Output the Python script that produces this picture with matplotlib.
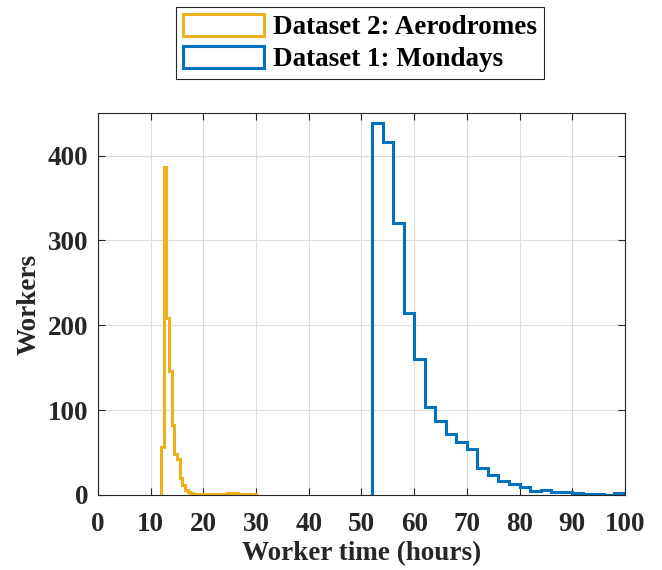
import numpy as np
import matplotlib
matplotlib.use("Agg")
from matplotlib import pyplot as plt
from matplotlib.patches import Patch

# Dataset 2: aerodromes, 0.5 h bins from 12 to 30 h
aero_edges = np.arange(12.0, 30.01, 0.5)
aero_counts = [57, 386, 209, 146, 82, 48, 42, 20, 12, 6, 3, 2,
               1, 1, 1, 1, 0, 1, 1, 0, 1, 1, 1, 1, 1, 2, 2, 1, 2, 1,
               1, 1, 0, 1, 1, 1]

# Dataset 1: mondays, 2 h bins from 52 to 100 h
monday_edges = np.arange(52, 101, 2)
monday_counts = [438, 416, 320, 214, 160, 104, 87, 72, 62, 54, 32, 24,
                 16, 13, 10, 5, 6, 4, 3, 2, 1, 1, 0, 2]

orange = "#EDB120"
blue = "#0072BD"
fs = 19.5

plt.rcParams['font.family'] = ['Liberation Serif', 'DejaVu Serif']
plt.rcParams['font.weight'] = 'bold'
plt.rcParams['font.size'] = fs

fig = plt.figure(figsize=(6.62, 5.70), dpi=100)
ax = fig.add_axes([0.148, 0.1316, 0.796, 0.670])

ax.stairs(aero_counts, aero_edges, color=orange, linewidth=2.2, baseline=0)
ax.stairs(monday_counts, monday_edges, color=blue, linewidth=2.2, baseline=0)

ax.set_xlim(0, 100)
ax.set_ylim(0, 450)
ax.set_xticks(np.arange(0, 101, 10))
ax.set_yticks(np.arange(0, 401, 100))
ax.grid(True, color="#dcdcdc", linewidth=0.8)
ax.set_axisbelow(True)
ax.tick_params(direction='in', top=True, right=True, length=5, color="#262626",
               labelsize=fs, labelcolor="#262626")
ax.tick_params(axis='x', pad=12)
ax.tick_params(axis='y', pad=7)
for s in ax.spines.values():
    s.set_color("#262626")
    s.set_linewidth(0.8)

ax.set_xlabel("Worker time (hours)", fontweight='bold', fontsize=fs, labelpad=3,
              color="#262626")
ax.set_ylabel("Workers", fontweight='bold', fontsize=fs, labelpad=4,
              color="#262626")

handles = [Patch(facecolor='white', edgecolor=orange, linewidth=2.2),
           Patch(facecolor='white', edgecolor=blue, linewidth=2.2)]
labels = ["Dataset 2: Aerodromes", "Dataset 1: Mondays"]
leg = fig.legend(handles, labels, loc='upper center', bbox_to_anchor=(0.544, 0.997),
                 fancybox=False, edgecolor="#262626", framealpha=1,
                 handlelength=3.0, handleheight=0.9, handletextpad=0.35,
                 borderpad=0.25, labelspacing=0.2, borderaxespad=0.2,
                 prop={'weight': 'bold', 'size': fs})
leg.get_frame().set_linewidth(0.8)

fig.savefig("out.png", dpi=100)
